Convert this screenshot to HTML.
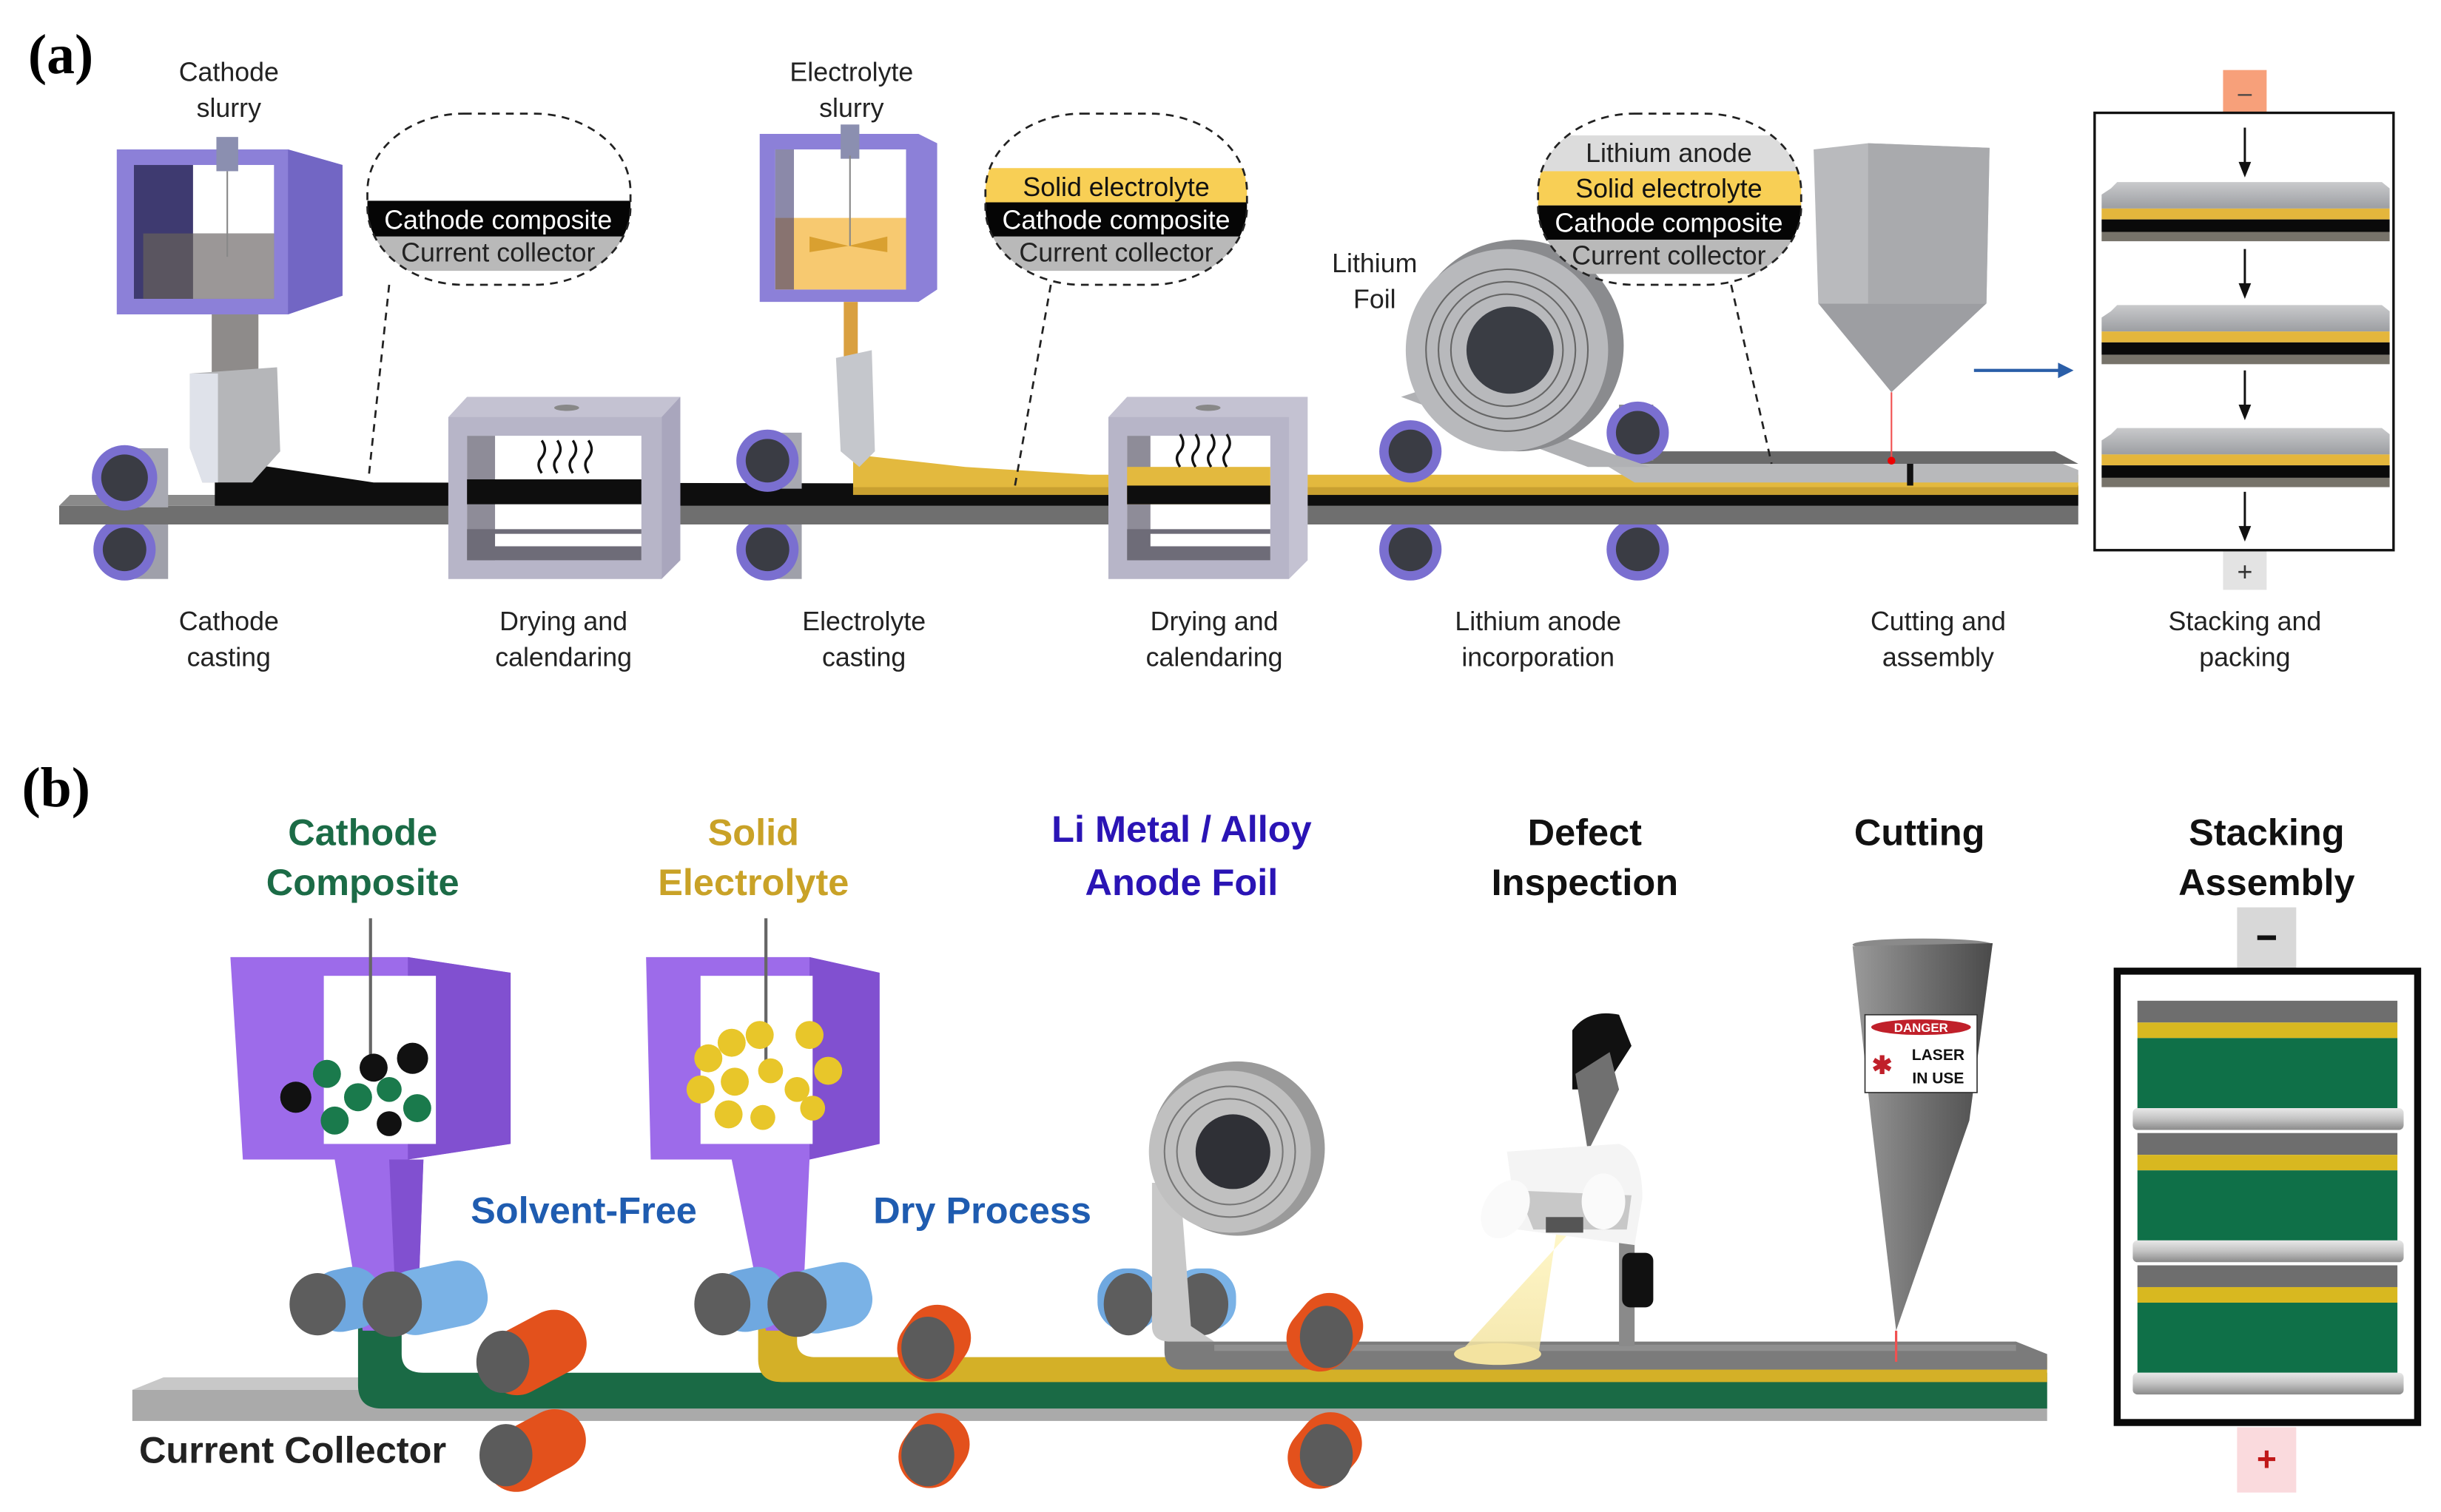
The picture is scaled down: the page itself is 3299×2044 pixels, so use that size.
<!DOCTYPE html>
<html><head><meta charset="utf-8">
<style>
html,body{margin:0;padding:0;background:#fff;}
svg{display:block;}
text{font-family:"Liberation Sans",sans-serif;}
</style></head><body>
<svg width="3299" height="2044" viewBox="0 0 1568 971.5" xmlns="http://www.w3.org/2000/svg">
<defs>
<clipPath id="b1"><rect x="236" y="73" width="169" height="110" rx="62" ry="50"/></clipPath>
<clipPath id="b2"><rect x="633" y="73" width="168" height="110" rx="62" ry="50"/></clipPath>
<clipPath id="b3"><rect x="988" y="73" width="169" height="110" rx="62" ry="50"/></clipPath>
<linearGradient id="plate" x1="0" y1="0" x2="0" y2="1"><stop offset="0" stop-color="#c9cacc"/><stop offset="1" stop-color="#9c9ea2"/></linearGradient>
<linearGradient id="bar" x1="0" y1="0" x2="0" y2="1"><stop offset="0" stop-color="#e8e8e8"/><stop offset="0.5" stop-color="#c2c2c2"/><stop offset="1" stop-color="#8a8a8a"/></linearGradient>
<linearGradient id="cone" x1="0" y1="0" x2="1" y2="0"><stop offset="0" stop-color="#9a9a9a"/><stop offset="0.5" stop-color="#707070"/><stop offset="1" stop-color="#4a4a4a"/></linearGradient>
<linearGradient id="beam" x1="0" y1="0" x2="0" y2="1"><stop offset="0" stop-color="#fff6c0"/><stop offset="1" stop-color="#f3e3a0"/></linearGradient>
</defs>

<!-- ================= PANEL A ================= -->
<text x="18" y="47" style="font-family:'Liberation Serif',serif;font-weight:bold;font-size:36px">(a)</text>
<g font-size="17" fill="#222" text-anchor="middle">
<text x="147" y="52">Cathode</text><text x="147" y="75">slurry</text>
<text x="547" y="52">Electrolyte</text><text x="547" y="75">slurry</text>
<text x="883" y="175">Lithium</text><text x="883" y="198">Foil</text>
<text x="147" y="405">Cathode</text><text x="147" y="428">casting</text>
<text x="362" y="405">Drying and</text><text x="362" y="428">calendaring</text>
<text x="555" y="405">Electrolyte</text><text x="555" y="428">casting</text>
<text x="780" y="405">Drying and</text><text x="780" y="428">calendaring</text>
<text x="988" y="405">Lithium anode</text><text x="988" y="428">incorporation</text>
<text x="1245" y="405">Cutting and</text><text x="1245" y="428">assembly</text>
<text x="1442" y="405">Stacking and</text><text x="1442" y="428">packing</text>
</g>

<g>
<rect x="80" y="336" width="28" height="36" fill="#9fa0aa"/>
<circle cx="80" cy="353" r="20" fill="#7a6fd0"/><circle cx="80" cy="353" r="14" fill="#3a3c44"/>
<rect x="493" y="336" width="22" height="36" fill="#9fa0aa"/>
<circle cx="493" cy="353" r="20" fill="#7a6fd0"/><circle cx="493" cy="353" r="14" fill="#3a3c44"/>
<circle cx="906" cy="353" r="20" fill="#7a6fd0"/><circle cx="906" cy="353" r="14" fill="#3a3c44"/>
<circle cx="1052" cy="353" r="20" fill="#7a6fd0"/><circle cx="1052" cy="353" r="14" fill="#3a3c44"/>
</g>

<polygon points="38,325 1335,325 1335,337 38,337" fill="#6f6f6f"/>
<polygon points="45,318 1320,318 1335,325 38,325" fill="#8a8a8a"/>
<polygon points="138,305 160,298 240,310 1335,312 1335,325 138,325" fill="#0e0e0e"/>
<polygon points="548,292 620,300 700,305 1335,305 1335,318 548,318" fill="#e3b93e"/>
<rect x="548" y="313" width="787" height="5" fill="#c9a030"/>
<polygon points="1050,296 1230,296 1320,296 1335,302 1335,310 1050,310 1020,292" fill="#b8b9bb"/>
<polygon points="1055,290 1320,290 1335,298 1050,298" fill="#6a6a6a"/>
<rect x="1225" y="298" width="4" height="14" fill="#111"/>

<rect x="80" y="288" width="28" height="38" fill="#a8a9b2"/>
<circle cx="80" cy="307" r="21" fill="#7a6fd0"/><circle cx="80" cy="307" r="15" fill="#3a3c44"/>
<rect x="493" y="278" width="22" height="36" fill="#a8a9b2"/>
<circle cx="493" cy="296" r="20" fill="#7a6fd0"/><circle cx="493" cy="296" r="14" fill="#3a3c44"/>
<circle cx="906" cy="290" r="20" fill="#7a6fd0"/><circle cx="906" cy="290" r="14" fill="#3a3c44"/>
<rect x="1040" y="260" width="22" height="36" fill="#8a8b92"/>
<circle cx="1052" cy="278" r="20" fill="#7a6fd0"/><circle cx="1052" cy="278" r="14" fill="#3a3c44"/>

<polygon points="75,96 185,96 220,106 220,190 185,202 75,202" fill="#8c80d8"/>
<polygon points="185,96 220,106 220,190 185,202" fill="#7266c4"/>
<rect x="86" y="106" width="90" height="86" fill="#fff"/>
<rect x="86" y="106" width="38" height="86" fill="#3e3a70"/>
<rect x="92" y="150" width="84" height="42" fill="#5a5560"/>
<rect x="124" y="150" width="52" height="42" fill="#9b9797"/>
<rect x="139" y="88" width="14" height="22" fill="#8b8fb0"/>
<line x1="146" y1="110" x2="146" y2="165" stroke="#888" stroke-width="1"/>
<rect x="136" y="202" width="30" height="38" fill="#8e8b8a"/>
<polygon points="122,240 178,236 180,290 162,310 130,310 122,288" fill="#b5b6b9"/>
<polygon points="122,240 140,240 140,310 130,310 122,288" fill="#dfe2ea"/>

<polygon points="488,86 590,86 602,92 602,186 590,194 488,194" fill="#8c80d8"/>
<rect x="498" y="96" width="84" height="90" fill="#fff"/>
<rect x="498" y="140" width="84" height="46" fill="#f7c970"/>
<rect x="498" y="96" width="12" height="90" fill="#3e3a70" opacity="0.6"/>
<polygon points="520,152 545,158 570,152 570,162 545,158 520,162" fill="#d9a030"/>
<rect x="540" y="80" width="12" height="22" fill="#8b8fb0"/>
<line x1="546" y1="100" x2="546" y2="158" stroke="#888" stroke-width="1"/>
<rect x="542" y="194" width="9" height="36" fill="#d9a040"/>
<polygon points="537,230 560,225 562,290 552,300 540,290" fill="#c5c7cc"/>

<g>
<polygon points="288,268 300,255 437,255 437,360 425,372 288,372" fill="#c4c2d2"/>
<polygon points="425,268 437,255 437,360 425,372" fill="#a9a6bd"/>
<rect x="288" y="268" width="137" height="104" fill="#b7b5c8"/>
<rect x="300" y="280" width="112" height="80" fill="#fff"/>
<rect x="300" y="280" width="18" height="80" fill="#8e8c98"/>
<rect x="300" y="340" width="112" height="20" fill="#6e6c78"/>
<rect x="318" y="343" width="94" height="8" fill="#fff"/>
<ellipse cx="364" cy="262" rx="8" ry="2" fill="#888"/>
</g>
<rect x="300" y="308" width="112" height="16" fill="#0e0e0e"/>
<g fill="none" stroke="#111" stroke-width="1.6">
<path d="M348,304 q-4,-6 0,-10 q4,-5 0,-11"/><path d="M358,304 q-4,-6 0,-10 q4,-5 0,-11"/>
<path d="M368,304 q-4,-6 0,-10 q4,-5 0,-11"/><path d="M378,304 q-4,-6 0,-10 q4,-5 0,-11"/>
</g>
<g>
<polygon points="712,268 724,255 840,255 840,360 828,372 712,372" fill="#c4c2d2"/>
<rect x="712" y="268" width="116" height="104" fill="#b7b5c8"/>
<rect x="724" y="280" width="92" height="80" fill="#fff"/>
<rect x="724" y="280" width="15" height="80" fill="#8e8c98"/>
<rect x="724" y="340" width="92" height="20" fill="#6e6c78"/>
<rect x="739" y="343" width="77" height="8" fill="#fff"/>
<ellipse cx="776" cy="262" rx="8" ry="2" fill="#888"/>
</g>
<rect x="724" y="300" width="92" height="24" fill="#e3b93e"/>
<rect x="724" y="312" width="92" height="12" fill="#0e0e0e"/>
<g fill="none" stroke="#111" stroke-width="1.6">
<path d="M758,300 q-4,-6 0,-10 q4,-5 0,-11"/><path d="M768,300 q-4,-6 0,-10 q4,-5 0,-11"/>
<path d="M778,300 q-4,-6 0,-10 q4,-5 0,-11"/><path d="M788,300 q-4,-6 0,-10 q4,-5 0,-11"/>
</g>

<path d="M915,250 L1060,300 L1020,300 L900,255 Z" fill="#b0b1b4"/>
<circle cx="975" cy="222" r="68" fill="#8a8b8e"/>
<circle cx="968" cy="225" r="65" fill="#b8b9bc"/>
<circle cx="968" cy="225" r="52" fill="none" stroke="#666" stroke-width="1"/>
<circle cx="968" cy="225" r="44" fill="none" stroke="#666" stroke-width="1"/>
<circle cx="968" cy="225" r="36" fill="none" stroke="#666" stroke-width="1"/>
<circle cx="970" cy="225" r="28" fill="#3a3d44"/>

<polygon points="1165,96 1200,92 1278,95 1276,195 1168,195" fill="#b9babd"/>
<polygon points="1200,92 1278,95 1276,195 1200,195" fill="#a9aaad"/>
<polygon points="1168,195 1276,195 1215,252" fill="#9d9ea2"/>
<line x1="1215" y1="252" x2="1215" y2="296" stroke="#f05050" stroke-width="1"/>
<circle cx="1215" cy="296" r="2.5" fill="#e00"/>

<line x1="1268" y1="238" x2="1326" y2="238" stroke="#2a5ea8" stroke-width="2"/>
<polygon points="1332,238 1322,233 1322,243" fill="#2a5ea8"/>

<rect x="1428" y="45" width="28" height="27" fill="#f7a07a"/>
<text x="1442" y="65" font-size="16" text-anchor="middle" fill="#444">–</text>
<rect x="1428" y="354" width="28" height="25" fill="#e3e3e3"/>
<text x="1442" y="373" font-size="17" text-anchor="middle" fill="#333">+</text>
<rect x="1345.5" y="72.5" width="192" height="281" fill="none" stroke="#111" stroke-width="1.6"/>
<g id="pl">
<polygon points="1356,121 1360,117 1530,117 1535,121 1535,134 1350,134 1350,125" fill="url(#plate)"/>
<rect x="1350" y="134" width="185" height="7" fill="#e4b63c"/>
<rect x="1350" y="141" width="185" height="8" fill="#0a0a0a"/>
<rect x="1350" y="149" width="185" height="6" fill="#77736a"/>
</g>
<use href="#pl" y="79"/>
<use href="#pl" y="158"/>
<g stroke="#111" stroke-width="1.4">
<line x1="1442" y1="82" x2="1442" y2="110"/><line x1="1442" y1="160" x2="1442" y2="188"/>
<line x1="1442" y1="238" x2="1442" y2="266"/><line x1="1442" y1="316" x2="1442" y2="344"/>
</g>
<g fill="#111">
<polygon points="1442,114 1438,104 1446,104"/><polygon points="1442,192 1438,182 1446,182"/>
<polygon points="1442,270 1438,260 1446,260"/><polygon points="1442,348 1438,338 1446,338"/>
</g>

<g clip-path="url(#b1)">
<rect x="230" y="129" width="180" height="23" fill="#050505"/>
<rect x="230" y="152" width="180" height="22" fill="#b9b9b9"/>
</g>
<rect x="236" y="73" width="169" height="110" rx="62" ry="50" fill="none" stroke="#222" stroke-width="1.3" stroke-dasharray="5,4"/>
<text x="320" y="147" font-size="17" fill="#fff" text-anchor="middle">Cathode composite</text>
<text x="320" y="168" font-size="17" fill="#222" text-anchor="middle">Current collector</text>
<g clip-path="url(#b2)">
<rect x="628" y="108" width="180" height="22" fill="#f8cf55"/>
<rect x="628" y="130" width="180" height="22" fill="#050505"/>
<rect x="628" y="152" width="180" height="22" fill="#b9b9b9"/>
</g>
<rect x="633" y="73" width="168" height="110" rx="62" ry="50" fill="none" stroke="#222" stroke-width="1.3" stroke-dasharray="5,4"/>
<text x="717" y="126" font-size="17" fill="#111" text-anchor="middle">Solid electrolyte</text>
<text x="717" y="147" font-size="17" fill="#fff" text-anchor="middle">Cathode composite</text>
<text x="717" y="168" font-size="17" fill="#222" text-anchor="middle">Current collector</text>
<g clip-path="url(#b3)">
<rect x="983" y="87" width="180" height="23" fill="#dcdcdc"/>
<rect x="983" y="110" width="180" height="22" fill="#f8cf55"/>
<rect x="983" y="132" width="180" height="22" fill="#050505"/>
<rect x="983" y="154" width="180" height="22" fill="#b9b9b9"/>
</g>
<rect x="988" y="73" width="169" height="110" rx="62" ry="50" fill="none" stroke="#222" stroke-width="1.3" stroke-dasharray="5,4"/>
<text x="1072" y="104" font-size="17" fill="#222" text-anchor="middle">Lithium anode</text>
<text x="1072" y="127" font-size="17" fill="#111" text-anchor="middle">Solid electrolyte</text>
<text x="1072" y="149" font-size="17" fill="#fff" text-anchor="middle">Cathode composite</text>
<text x="1072" y="170" font-size="17" fill="#222" text-anchor="middle">Current collector</text>
<g stroke="#222" stroke-width="1.3" stroke-dasharray="5,4" fill="none">
<line x1="250" y1="183" x2="237" y2="305"/>
<line x1="675" y1="183" x2="652" y2="312"/>
<line x1="1112" y1="183" x2="1138" y2="298"/>
</g>

<!-- ================= PANEL B ================= -->
<text x="14" y="518" style="font-family:'Liberation Serif',serif;font-weight:bold;font-size:36px">(b)</text>
<g font-size="24" font-weight="bold" text-anchor="middle">
<text x="233" y="543" fill="#1b6b46">Cathode</text><text x="233" y="575" fill="#1b6b46">Composite</text>
<text x="484" y="543" fill="#c9a227">Solid</text><text x="484" y="575" fill="#c9a227">Electrolyte</text>
<text x="759" y="541" fill="#2a14b5">Li Metal / Alloy</text><text x="759" y="575" fill="#2a14b5">Anode Foil</text>
<text x="1018" y="543" fill="#111">Defect</text><text x="1018" y="575" fill="#111">Inspection</text>
<text x="1233" y="543" fill="#111">Cutting</text>
<text x="1456" y="543" fill="#111">Stacking</text><text x="1456" y="575" fill="#111">Assembly</text>
<text x="375" y="786" fill="#1f5cb0">Solvent-Free</text>
<text x="631" y="786" fill="#1f5cb0">Dry Process</text>
<text x="188" y="940" fill="#222">Current Collector</text>
</g>

<polygon points="85,893 105,885 1315,885 1315,893" fill="#c8c8c8"/>
<rect x="85" y="893" width="1230" height="20" fill="#aaaaaa"/>
<path d="M230,850 L258,850 L258,870 Q258,882 272,882 L1315,882 L1315,905 L245,905 Q230,905 230,890 Z" fill="#1a6a45"/>
<path d="M487,850 L512,850 L512,862 Q512,872 524,872 L1315,872 L1315,888 L502,888 Q487,888 487,873 Z" fill="#d4b027"/>
<path d="M748,850 L770,850 L770,858 Q770,862 780,862 L1295,862 L1315,870 L1315,880 L760,880 Q748,880 748,868 Z" fill="#7b7b7b"/>
<rect x="780" y="864" width="515" height="4" fill="#9c9c9c" opacity="0.6"/>

<g>
<polygon points="148,615 262,615 328,625 328,735 262,745 156,745" fill="#9d6bea"/>
<polygon points="262,615 328,625 328,735 262,745" fill="#8150d0"/>
<rect x="208" y="627" width="72" height="108" fill="#fff"/>
<line x1="238" y1="590" x2="238" y2="690" stroke="#666" stroke-width="2"/>
<circle cx="190" cy="705" r="10" fill="#111"/><circle cx="265" cy="680" r="10" fill="#111"/><circle cx="240" cy="686" r="9" fill="#111"/>
<circle cx="210" cy="690" r="9" fill="#1a7a4c"/><circle cx="230" cy="705" r="9" fill="#1a7a4c"/><circle cx="215" cy="720" r="9" fill="#1a7a4c"/><circle cx="268" cy="712" r="9" fill="#1a7a4c"/><circle cx="250" cy="700" r="8" fill="#1a7a4c"/>
<circle cx="250" cy="722" r="8" fill="#111"/>
<polygon points="215,745 272,745 268,855 233,855" fill="#9d6bea"/>
<polygon points="250,745 272,745 268,855 255,855" fill="#8150d0"/>
</g>
<g>
<polygon points="415,615 520,615 565,625 565,735 520,745 418,745" fill="#9d6bea"/>
<polygon points="520,615 565,625 565,735 520,745" fill="#8150d0"/>
<rect x="450" y="627" width="72" height="108" fill="#fff"/>
<line x1="492" y1="590" x2="492" y2="690" stroke="#666" stroke-width="2"/>
<g fill="#e8c62a">
<circle cx="455" cy="680" r="9"/><circle cx="470" cy="670" r="9"/><circle cx="488" cy="665" r="9"/><circle cx="520" cy="665" r="9"/><circle cx="532" cy="688" r="9"/>
<circle cx="450" cy="700" r="9"/><circle cx="472" cy="695" r="9"/><circle cx="495" cy="688" r="8"/><circle cx="512" cy="700" r="8"/><circle cx="468" cy="716" r="9"/><circle cx="490" cy="718" r="8"/><circle cx="522" cy="712" r="8"/>
</g>
<polygon points="470,745 520,745 515,855 492,855" fill="#9d6bea"/>
</g>

<g>
<rect x="200" y="815" width="45" height="40" rx="18" fill="#6fa8e0" transform="rotate(-12 222 835)"/>
<ellipse cx="204" cy="838" rx="18" ry="20" fill="#5d5d5d"/>
<rect x="248" y="813" width="65" height="42" rx="18" fill="#7ab2e6" transform="rotate(-12 280 834)"/>
<ellipse cx="252" cy="838" rx="19" ry="21" fill="#5d5d5d"/>
<rect x="460" y="815" width="45" height="40" rx="18" fill="#6fa8e0" transform="rotate(-12 482 835)"/>
<ellipse cx="464" cy="838" rx="18" ry="20" fill="#5d5d5d"/>
<rect x="505" y="813" width="55" height="42" rx="18" fill="#7ab2e6" transform="rotate(-12 532 834)"/>
<ellipse cx="512" cy="838" rx="19" ry="21" fill="#5d5d5d"/>
<rect x="705" y="815" width="40" height="40" rx="18" fill="#6fa8e0"/>
<ellipse cx="725" cy="838" rx="16" ry="20" fill="#5d5d5d"/>
<rect x="752" y="815" width="42" height="40" rx="18" fill="#7ab2e6"/>
<ellipse cx="772" cy="838" rx="17" ry="20" fill="#5d5d5d"/>
</g>
<g fill="#e3511c">
<rect x="310" y="848" width="68" height="42" rx="20" transform="rotate(-28 344 869)"/>
<rect x="310" y="912" width="68" height="40" rx="20" transform="rotate(-28 344 932)"/>
<rect x="575" y="842" width="50" height="42" rx="20" transform="rotate(-55 600 863)"/>
<rect x="575" y="912" width="50" height="40" rx="20" transform="rotate(-55 600 932)"/>
<rect x="825" y="835" width="52" height="42" rx="20" transform="rotate(-50 851 856)"/>
<rect x="825" y="912" width="52" height="40" rx="20" transform="rotate(-50 851 932)"/>
</g>
<g fill="#5b5b5b">
<ellipse cx="323" cy="875" rx="17" ry="20"/><ellipse cx="325" cy="935" rx="17" ry="20"/>
<ellipse cx="596" cy="866" rx="17" ry="20"/><ellipse cx="596" cy="935" rx="17" ry="20"/>
<ellipse cx="852" cy="859" rx="17" ry="20"/><ellipse cx="852" cy="935" rx="17" ry="20"/>
</g>

<path d="M740,760 L740,852 Q740,862 752,862 L780,862 L765,852 L758,760 Z" fill="#c8c8c8"/>
<circle cx="795" cy="738" r="56" fill="#9a9a9a"/>
<circle cx="790" cy="740" r="52" fill="#c0c0c0"/>
<circle cx="790" cy="740" r="42" fill="none" stroke="#777"/>
<circle cx="790" cy="740" r="34" fill="none" stroke="#777"/>
<circle cx="792" cy="740" r="24" fill="#2f3036"/>

<polygon points="935,872 988,872 1000,790 1010,790" fill="url(#beam)" opacity="0.85"/>
<ellipse cx="962" cy="870" rx="28" ry="7" fill="#f3e3a0"/>
<rect x="1040" y="775" width="10" height="90" fill="#8a8a8a"/>
<rect x="1042" y="805" width="20" height="35" rx="5" fill="#111"/>
<path d="M1010,662 Q1020,648 1040,652 L1048,672 L1030,700 L1010,700 Z" fill="#111"/>
<polygon points="1012,690 1034,676 1040,700 1020,740" fill="#707070"/>
<path d="M968,740 L1040,735 Q1055,740 1055,770 L1050,800 L975,790 Z" fill="#f4f4f4"/>
<path d="M975,765 L1048,768 L1045,790 L985,790 Z" fill="#c8c8c8"/>
<ellipse cx="967" cy="777" rx="14" ry="20" fill="#fafafa" transform="rotate(30 967 777)"/>
<ellipse cx="1030" cy="772" rx="14" ry="18" fill="#fafafa"/>
<rect x="993" y="782" width="24" height="10" fill="#555"/>

<ellipse cx="1235" cy="607" rx="45" ry="4" fill="#8a8a8a"/>
<polygon points="1190,608 1280,606 1265,720 1218,855 1202,720" fill="url(#cone)"/>
<line x1="1218" y1="855" x2="1218" y2="875" stroke="#f05050" stroke-width="1.5"/>
<rect x="1198" y="652" width="72" height="50" fill="#fff" stroke="#333" stroke-width="0.8"/>
<ellipse cx="1234" cy="660" rx="32" ry="5" fill="#c0202a"/>
<text x="1234" y="663" font-size="8" fill="#fff" text-anchor="middle" font-weight="bold">DANGER</text>
<text x="1245" y="681" font-size="10" fill="#111" text-anchor="middle" font-weight="bold">LASER</text>
<text x="1245" y="696" font-size="10" fill="#111" text-anchor="middle" font-weight="bold">IN USE</text>
<text x="1209" y="690" font-size="16" fill="#c0202a" text-anchor="middle" font-weight="bold">✱</text>

<rect x="1437" y="583" width="38" height="39" fill="#d8d8d8"/>
<rect x="1450" y="601" width="12" height="3" fill="#111"/>
<rect x="1437" y="917" width="38" height="42" fill="#fadadd"/>
<text x="1456" y="945" font-size="22" font-weight="bold" fill="#c01818" text-anchor="middle">+</text>
<rect x="1360" y="624" width="193" height="290" fill="#fff" stroke="#0a0a0a" stroke-width="4.5"/>
<g id="cell">
<rect x="1373" y="643" width="167" height="14" fill="#6e6e6e"/>
<rect x="1373" y="657" width="167" height="10" fill="#d8b820"/>
<rect x="1373" y="667" width="167" height="45" fill="#0f7048"/>
<rect x="1370" y="712" width="174" height="14" rx="3" fill="url(#bar)"/>
</g>
<use href="#cell" y="85"/>
<use href="#cell" y="170"/>
</svg>
</body></html>
